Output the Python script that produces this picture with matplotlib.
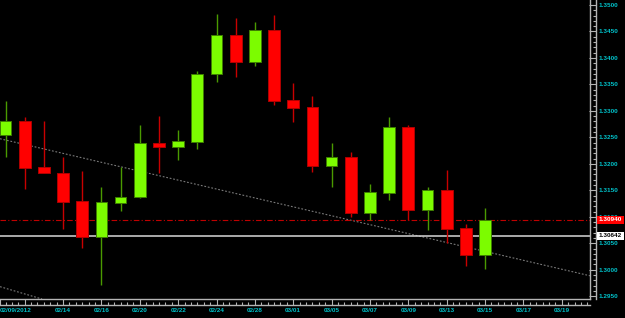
import matplotlib
matplotlib.use('Agg')
import matplotlib.pyplot as plt
import matplotlib.transforms as mtransforms
from matplotlib import font_manager
from matplotlib.ticker import FixedLocator, MultipleLocator, FormatStrFormatter

_names = {f.name for f in font_manager.fontManager.ttflist}
if 'Liberation Sans Narrow' in _names:
    plt.rcParams['font.family'] = ['Liberation Sans Narrow', 'DejaVu Sans']
    FS = 5.4
elif 'Liberation Sans' in _names:
    plt.rcParams['font.family'] = ['Liberation Sans', 'DejaVu Sans']
    FS = 4.6
else:
    plt.rcParams['font.family'] = ['DejaVu Sans']
    FS = 4.0
plt.rcParams['font.weight'] = 'bold'

# ---------------- data ----------------
dates = ['02/09', '02/10', '02/13', '02/14', '02/15', '02/16', '02/17', '02/20',
         '02/21', '02/22', '02/23', '02/24', '02/27', '02/28', '02/29', '03/01',
         '03/02', '03/05', '03/06', '03/07', '03/08', '03/09', '03/12', '03/13',
         '03/14', '03/15']
opens = [1.32545, 1.32815, 1.31941, 1.31833, 1.31299, 1.30613, 1.31267, 1.31369,
         1.32388, 1.32324, 1.32418, 1.33691, 1.34433, 1.33923, 1.34528, 1.33206,
         1.33068, 1.31954, 1.32124, 1.31078, 1.31455, 1.32696, 1.31134, 1.31506,
         1.30789, 1.30285]
highs = [1.33187, 1.32885, 1.32809, 1.32130, 1.31865, 1.31557, 1.31946, 1.32734,
         1.32904, 1.32639, 1.33753, 1.34830, 1.34754, 1.34679, 1.34816, 1.33527,
         1.33281, 1.32388, 1.32224, 1.31614, 1.32885, 1.32740, 1.31563, 1.31884,
         1.30870, 1.31161]
lows = [1.32130, 1.31525, 1.31827, 1.30770, 1.30411, 1.29713, 1.31116, 1.31360,
        1.31833, 1.32079, 1.32281, 1.33540, 1.33634, 1.33853, 1.33111, 1.32790,
        1.31846, 1.31569, 1.31002, 1.30940, 1.31323, 1.30940, 1.30757, 1.30500,
        1.30077, 1.30009]
closes = [1.32815, 1.31927, 1.31827, 1.31286, 1.30613, 1.31274, 1.31374, 1.32388,
          1.32324, 1.32426, 1.33697, 1.34433, 1.33923, 1.34528, 1.33193, 1.33060,
          1.31960, 1.32124, 1.31078, 1.31463, 1.32696, 1.31134, 1.31506, 1.30776,
          1.30285, 1.30940]

time_tick_pos = [1, 3, 5, 7, 9, 11, 13, 15, 17, 19, 21, 23, 25, 27, 29]
time_tick_labels = ['', '02/14', '02/16', '02/20', '02/22', '02/24', '02/28', '03/01',
                    '03/05', '03/07', '03/09', '03/13', '03/15', '03/17', '03/19']
first_label = '02/09/2012'

price_ticks = [1.2950, 1.3000, 1.3050, 1.3100, 1.3150, 1.3200, 1.3250, 1.3300,
               1.3350, 1.3400, 1.3450, 1.3500]

bid_price = 1.30940
line_price = 1.30642

trend_main = [(0, 1.32450), (30, 1.29926)]
trend_low = [(-0.287, 1.29681), (1.903, 1.29448)]

# ---------------- styles ----------------
BULL = '#7cfc00'
BULL_EDGE = '#3e7e00'
BULL_WICK = '#4a9a00'
BEAR = '#ff0000'
BEAR_EDGE = '#b00000'
BEAR_WICK = '#c80000'
AXC = '#b4b4b4'
TXT = '#00c0c8'

W, H = 625, 318
fig = plt.figure(figsize=(W / 100, H / 100), dpi=100, facecolor='black')
ax = fig.add_axes([0, 19 / H, 590 / W, 299 / H])
ax.set_facecolor('black')
ax.set_xlim(-0.287, 30.47)
ax.set_ylim(1.29448, 1.35094)

# trend lines
ax.axline(trend_main[0], trend_main[1], color='#7a7a7a', lw=0.8,
          linestyle=(0, (1.6, 1.6)), zorder=1)
ax.axline(trend_low[0], trend_low[1], color='#7a7a7a', lw=0.8,
          linestyle=(0, (1.6, 1.6)), zorder=1)

# horizontal lines
ax.axhline(bid_price, color='#c00000', lw=0.8, linestyle=(0, (5, 2, 1, 2)), zorder=1.5)
ax.axhline(line_price, color='#d8d8d8', lw=1.1, zorder=1.5)

# candles
xs = list(range(len(dates)))
for i in xs:
    o, h, l, c = opens[i], highs[i], lows[i], closes[i]
    bull = c >= o
    ax.vlines(i, l, h, colors=BULL_WICK if bull else BEAR_WICK, lw=1.0, zorder=2)
    ax.bar(i, abs(c - o), bottom=min(o, c), width=0.61,
           color=BULL if bull else BEAR, edgecolor=BULL_EDGE if bull else BEAR_EDGE,
           linewidth=0.7, zorder=3)

# axes styling
for s in ['top', 'left']:
    ax.spines[s].set_visible(False)
ax.spines['right'].set_position(('outward', 4.5))
ax.spines['bottom'].set_position(('outward', 4.5))
ax.spines['right'].set_color(AXC)
ax.spines['bottom'].set_color(AXC)
ax.spines['right'].set_linewidth(1.0)
ax.spines['bottom'].set_linewidth(1.0)

# frame lines at plot edge
ax.plot([1, 1], [0, 1], transform=ax.transAxes, color=AXC, lw=1.0, clip_on=False, zorder=4)
ax.plot([0, 1], [0, 0], transform=ax.transAxes, color=AXC, lw=1.0, clip_on=False, zorder=4)

ax.yaxis.tick_right()
ax.yaxis.set_major_locator(FixedLocator(price_ticks))
ax.yaxis.set_minor_locator(MultipleLocator(0.001))
ax.yaxis.set_major_formatter(FormatStrFormatter('%.4f'))
ax.tick_params(axis='y', which='major', direction='in', length=5.0, width=0.8,
               color=AXC, labelcolor=TXT, labelsize=FS, pad=1.8)
ax.tick_params(axis='y', which='minor', direction='in', length=2.5, width=0.8, color=AXC)

ax.xaxis.set_major_locator(FixedLocator([-0.287] + time_tick_pos))
ax.set_xticklabels([first_label] + time_tick_labels)
ax.xaxis.set_minor_locator(MultipleLocator(1 / 3))
ax.tick_params(axis='x', which='major', direction='in', length=4.5, width=0.8,
               color=AXC, labelcolor=TXT, labelsize=FS, pad=2.0)
ax.tick_params(axis='x', which='minor', direction='in', length=2.0, width=0.8, color=AXC)
ax.get_xticklabels()[0].set_horizontalalignment('left')

# price labels
trans = mtransforms.blended_transform_factory(ax.transAxes, ax.transData)
ax.text(599 / 590, bid_price, f'{bid_price:.5f}', transform=trans, color='white',
        fontsize=FS, va='center', ha='left', clip_on=False, zorder=10,
        bbox=dict(facecolor='#ff0000', edgecolor='none', boxstyle='square,pad=0.25'))
ax.text(599 / 590, line_price, f'{line_price:.5f}', transform=trans, color='black',
        fontsize=FS, va='center', ha='left', clip_on=False, zorder=10,
        bbox=dict(facecolor='white', edgecolor='none', boxstyle='square,pad=0.25'))

fig.savefig('out.png', dpi=100, facecolor='black')
